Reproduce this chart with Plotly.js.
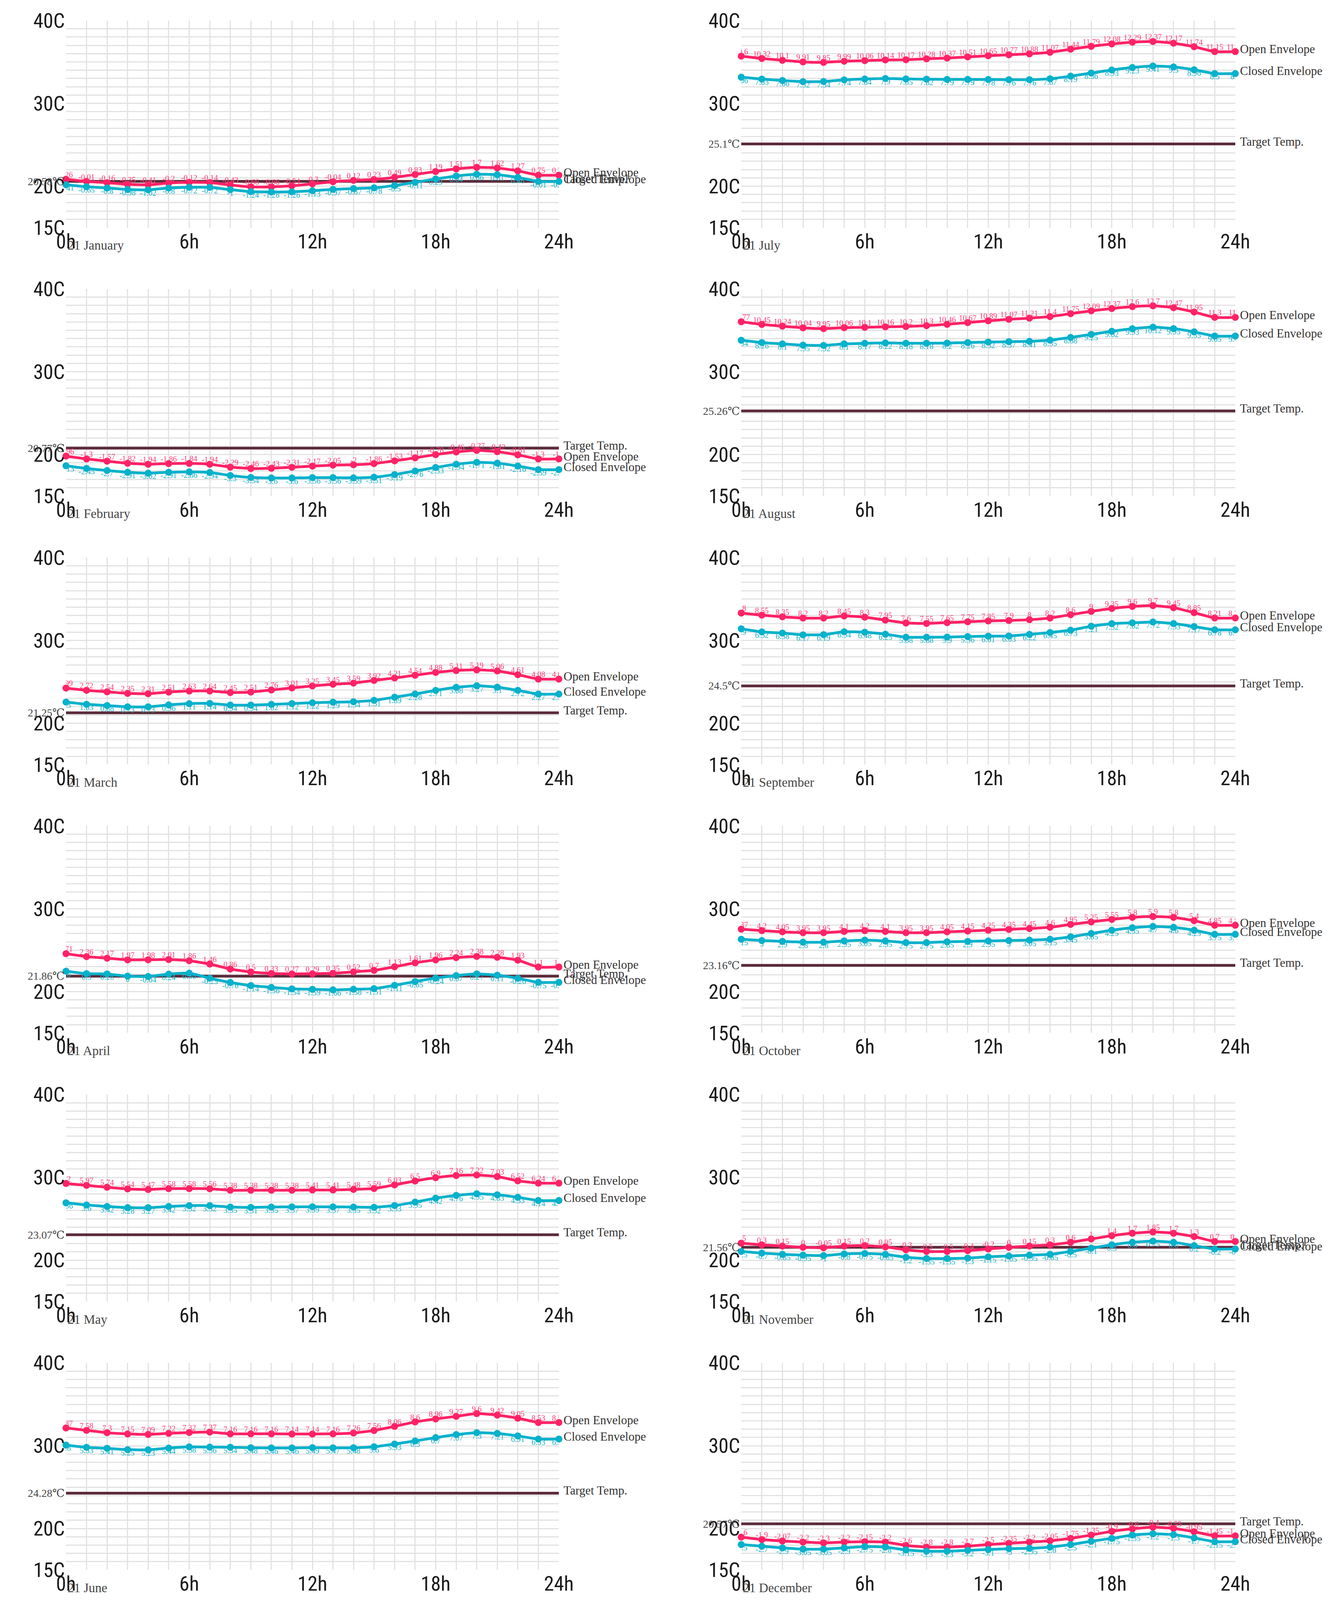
<!DOCTYPE html>
<html><head><meta charset="utf-8">
<script src="https://cdn.plot.ly/plotly-3.0.1.min.js"></script>
<style>html,body{margin:0;padding:0;background:#fff;overflow:hidden}</style>
</head><body><div id="chart"></div>
<script>
const hours = [0,1,2,3,4,5,6,7,8,9,10,11,12,13,14,15,16,17,18,19,20,21,22,23,24];
const hourTickVals = [0,6,12,18,24];
const hourTickText = ["0h","6h","12h","18h","24h"];
const tempTickVals = [15,20,30,40];
const tempTickText = ["15C","20C","30C","40C"];
const monthLabels = ["21 January","21 February","21 March","21 April","21 May","21 June",
                     "21 July","21 August","21 September","21 October","21 November","21 December"];
const targetTemps = [20.58, 20.77, 21.25, 21.86, 23.07, 24.28, 25.1, 25.26, 24.5, 23.16, 21.56, 20.57];

// Deviations from target temperature (the labels printed on the points)
const janOpen   = [0.26,-0.01,-0.16,-0.35,-0.41,-0.2,-0.12,-0.14,-0.43,-0.66,-0.66,-0.54,-0.3,-0.04,0.12,0.23,0.49,0.83,1.19,1.51,1.7,1.62,1.27,0.75,0.75];
const janClosed = [-0.41,-0.65,-0.8,-0.98,-1.02,-0.8,-0.72,-0.72,-1,-1.24,-1.28,-1.26,-1.13,-0.97,-0.87,-0.78,-0.5,-0.11,0.29,0.64,0.86,0.81,0.48,-0.01,-0.01];
const febOpen   = [-0.96,-1.3,-1.57,-1.82,-1.94,-1.86,-1.84,-1.94,-2.29,-2.46,-2.43,-2.31,-2.17,-2.05,-2,-1.86,-1.53,-1.17,-0.78,-0.46,-0.27,-0.42,-0.81,-1.3,-1.3];
const febClosed = [-2.13,-2.45,-2.7,-2.91,-3.02,-2.91,-2.86,-2.94,-3.3,-3.54,-3.6,-3.6,-3.56,-3.56,-3.59,-3.51,-3.19,-2.76,-2.33,-1.94,-1.71,-1.81,-2.16,-2.59,-2.59];
const marOpen   = [2.99,2.72,2.54,2.35,2.31,2.51,2.63,2.64,2.45,2.51,2.76,3.01,3.25,3.45,3.59,3.92,4.21,4.54,4.88,5.11,5.19,5.06,4.61,4.08,4.08];
const marClosed = [1.3,1.03,0.88,0.73,0.73,0.96,1.11,1.14,0.94,0.94,1.02,1.12,1.22,1.29,1.34,1.51,1.89,2.28,2.71,3.08,3.27,3.1,2.72,2.27,2.27];
const aprOpen   = [2.71,2.36,2.17,1.97,1.98,2.01,1.86,1.46,0.86,0.5,0.33,0.27,0.29,0.35,0.52,0.7,1.13,1.61,1.96,2.24,2.38,2.28,1.93,1.1,1.1];
const aprClosed = [0.6,0.3,0.26,0,-0.04,0.24,0.36,-0.25,-0.76,-1.14,-1.36,-1.54,-1.59,-1.66,-1.58,-1.51,-1.11,-0.65,-0.24,0.07,0.27,0.11,-0.26,-0.75,-0.75];
const mayOpen   = [6.2,5.97,5.74,5.54,5.47,5.58,5.58,5.56,5.38,5.38,5.38,5.38,5.41,5.41,5.48,5.59,6.03,6.5,6.9,7.16,7.22,7.03,6.52,6.24,6.24];
const mayClosed = [3.86,3.6,3.42,3.28,3.27,3.42,3.52,3.52,3.35,3.31,3.35,3.37,3.39,3.37,3.35,3.32,3.53,3.95,4.42,4.76,4.95,4.83,4.53,4.14,4.14];
const junOpen   = [7.87,7.58,7.3,7.15,7.09,7.22,7.32,7.37,7.16,7.16,7.16,7.14,7.14,7.16,7.26,7.56,8.06,8.6,8.96,9.27,9.6,9.42,9.05,8.53,8.53];
const junClosed = [5.8,5.53,5.41,5.25,5.23,5.44,5.58,5.56,5.54,5.48,5.46,5.46,5.49,5.47,5.48,5.6,5.93,6.3,6.7,7.07,7.3,7.21,6.91,6.53,6.53];
const julOpen   = [10.6,10.32,10.1,9.91,9.85,9.99,10.06,10.14,10.17,10.28,10.37,10.51,10.65,10.77,10.88,11.07,11.44,11.79,12.08,12.29,12.37,12.17,11.74,11.15,11.15];
const julClosed = [8.06,7.83,7.66,7.52,7.54,7.74,7.84,7.9,7.85,7.82,7.79,7.79,7.78,7.76,7.76,7.87,8.19,8.56,8.93,9.23,9.41,9.3,8.96,8.5,8.5];
const augOpen   = [10.77,10.45,10.24,10.04,9.95,10.06,10.1,10.16,10.2,10.3,10.46,10.67,10.89,11.07,11.21,11.4,11.75,12.09,12.37,12.6,12.7,12.47,11.95,11.3,11.3];
const augClosed = [8.54,8.26,8.1,7.95,7.92,8.1,8.17,8.22,8.18,8.18,8.2,8.26,8.32,8.37,8.41,8.55,8.88,9.25,9.62,9.93,10.12,9.95,9.55,9.05,9.05];
const sepOpen   = [8.8,8.55,8.35,8.2,8.2,8.45,8.3,7.95,7.6,7.55,7.65,7.75,7.85,7.9,8.0,8.2,8.6,9.0,9.35,9.6,9.7,9.45,8.85,8.21,8.21];
const sepClosed = [6.9,6.52,6.38,6.17,6.19,6.54,6.48,6.25,5.88,5.88,5.9,5.96,6.01,6.03,6.22,6.45,6.73,7.21,7.52,7.62,7.72,7.53,7.17,6.78,6.78];
const octOpen   = [4.37,4.2,4.05,3.95,3.95,4.1,4.2,4.1,3.95,3.95,4.05,4.15,4.25,4.35,4.45,4.6,4.95,5.25,5.55,5.8,5.9,5.8,5.4,4.85,4.85];
const octClosed = [3.15,3.0,2.9,2.8,2.8,2.95,3.05,2.95,2.75,2.75,2.85,2.9,2.95,3.0,3.05,3.15,3.45,3.85,4.25,4.55,4.7,4.6,4.25,3.75,3.75];
const novOpen   = [0.5,0.3,0.15,0.0,-0.05,0.15,0.2,0.05,-0.3,-0.5,-0.5,-0.4,-0.2,0.0,0.15,0.3,0.6,1.0,1.4,1.7,1.85,1.7,1.3,0.7,0.7];
const novClosed = [-0.5,-0.7,-0.85,-0.95,-1.0,-0.8,-0.75,-0.85,-1.2,-1.35,-1.35,-1.3,-1.15,-1.05,-0.95,-0.85,-0.5,-0.1,0.3,0.6,0.75,0.6,0.2,-0.2,-0.2];
const decOpen   = [-1.6,-1.9,-2.07,-2.2,-2.3,-2.2,-2.15,-2.2,-2.6,-2.8,-2.8,-2.7,-2.5,-2.35,-2.2,-2.05,-1.75,-1.35,-0.9,-0.6,-0.4,-0.55,-0.95,-1.45,-1.45];
const decClosed = [-2.5,-2.7,-2.9,-3.05,-3.05,-2.9,-2.75,-2.8,-3.15,-3.3,-3.3,-3.2,-3.1,-3.0,-2.95,-2.8,-2.5,-2.1,-1.75,-1.35,-1.2,-1.3,-1.7,-2.15,-2.15];

const openDeltas   = [janOpen,febOpen,marOpen,aprOpen,mayOpen,junOpen,julOpen,augOpen,sepOpen,octOpen,novOpen,decOpen];
const closedDeltas = [janClosed,febClosed,marClosed,aprClosed,mayClosed,junClosed,julClosed,augClosed,sepClosed,octClosed,novClosed,decClosed];

// Reference canvas is 3426x5062; the window shows at most its inner height, so fit to it.
const REF_W = 3426, REF_H = 5062;
const W = REF_W;
const H = Math.min(REF_H, window.innerHeight || REF_H);
const vs = H / REF_H;
const OPEN_C = '#ff2266', CLOSED_C = '#06b1cb', TARGET_C = '#5c2b3a';
const GRID_C = '#e2e2e2';
const TICK_FONT = {family:'"Liberation Sans Narrow","Roboto Condensed","Liberation Sans",sans-serif', size:52, color:'#1a1a1a'};
const SERIF = '"Liberation Serif","DejaVu Serif",serif';

const colX = [[169/REF_W, 1431/REF_W],[1898/REF_W, 3163/REF_W]];
const rowTop = [65, 914, 1764, 2613, 3463, 4312];
const rowH = 655;

const traces = [];
const layout = {
  width: W, height: H, autosize:false,
  margin:{l:0,r:0,t:0,b:0},
  paper_bgcolor:'#ffffff', plot_bgcolor:'#ffffff',
  showlegend:false, annotations:[]
};

for (let i = 0; i < 12; i++) {
  const col = i < 6 ? 0 : 1, row = i % 6;
  const n = i === 0 ? '' : String(i+1);
  const xa = 'x'+n, ya = 'y'+n;
  const t = targetTemps[i];
  const openY = openDeltas[i].map(d => +(t + d).toFixed(2));
  const closedY = closedDeltas[i].map(d => +(t + d).toFixed(2));

  layout['xaxis'+n] = {
    domain: colX[col], anchor: ya, range:[0,24], fixedrange:true,
    tickmode:'array', tickvals: hourTickVals, ticktext: hourTickText,
    showgrid:true, gridcolor:GRID_C, gridwidth:3, zeroline:false, showline:false,
    ticks:'', tickfont:TICK_FONT, ticklabelstandoff:0,
    minor:{dtick:1, tick0:0, showgrid:true, gridcolor:GRID_C, gridwidth:3, ticks:''}
  };
  layout['yaxis'+n] = {
    domain:[1-(rowTop[row]+rowH)/REF_H, 1-rowTop[row]/REF_H], anchor: xa, range:[15,40], fixedrange:true,
    tickmode:'array', tickvals: tempTickVals, ticktext: tempTickText,
    showgrid:true, gridcolor:GRID_C, gridwidth:3, zeroline:false, showline:false,
    ticks:'', tickfont:TICK_FONT, ticklabelstandoff:2,
    minor:{dtick:1, tick0:15, showgrid:true, gridcolor:GRID_C, gridwidth:3, ticks:''}
  };

  traces.push({x:[hours[0], hours[hours.length-1]], y:[t,t], xaxis:xa, yaxis:ya, mode:'lines',
    line:{color:TARGET_C, width:7}, cliponaxis:false, hoverinfo:'skip'});
  traces.push({x:hours, y:openY, xaxis:xa, yaxis:ya, mode:'lines+markers',
    line:{color:OPEN_C, width:7, shape:'spline', smoothing:0.5},
    marker:{color:OPEN_C, size:18}, cliponaxis:false});
  traces.push({x:hours, y:closedY, xaxis:xa, yaxis:ya, mode:'lines+markers',
    line:{color:CLOSED_C, width:7, shape:'spline', smoothing:0.5},
    marker:{color:CLOSED_C, size:18}, cliponaxis:false});
  traces.push({x:hours, y:openY, xaxis:xa, yaxis:ya, mode:'text',
    text: openDeltas[i].map(String), textposition:'top center',
    textfont:{family:SERIF, size:20, color:'#ff3d7a'}, cliponaxis:true, hoverinfo:'skip'});
  traces.push({x:hours, y:closedY, xaxis:xa, yaxis:ya, mode:'text',
    text: closedDeltas[i].map(String), textposition:'bottom center',
    textfont:{family:SERIF, size:20, color:'#10b2ca'}, cliponaxis:true, hoverinfo:'skip'});

  const lastX = hours[hours.length-1];
  const endLabels = [
    ['Open Envelope', openY[openY.length-1]],
    ['Closed Envelope', closedY[closedY.length-1]],
    ['Target Temp.', t]
  ];
  endLabels.forEach(([txt, yv]) => layout.annotations.push({
    x:lastX, y:yv, xref:xa, yref:ya, text:txt, showarrow:false,
    xanchor:'left', yanchor:'middle', xshift:10, yshift:8*vs,
    font:{family:SERIF, size:31, color:'#333333'}
  }));
  layout.annotations.push({
    x:0, y:t, xref:xa, yref:ya, text: t + '\u2103', showarrow:false,
    xanchor:'right', yanchor:'middle', xshift:-2,
    font:{family:SERIF, size:28, color:'#444444'}
  });
  layout.annotations.push({
    x:0, y:0, xref:xa+' domain', yref:ya+' domain', text: monthLabels[i], showarrow:false,
    xanchor:'left', yanchor:'top', xshift:2, yshift:-32*vs,
    font:{family:SERIF, size:33, color:'#444444'}
  });
}

Plotly.newPlot('chart', traces, layout, {staticPlot:true, displayModeBar:false});
</script>
</body></html>
